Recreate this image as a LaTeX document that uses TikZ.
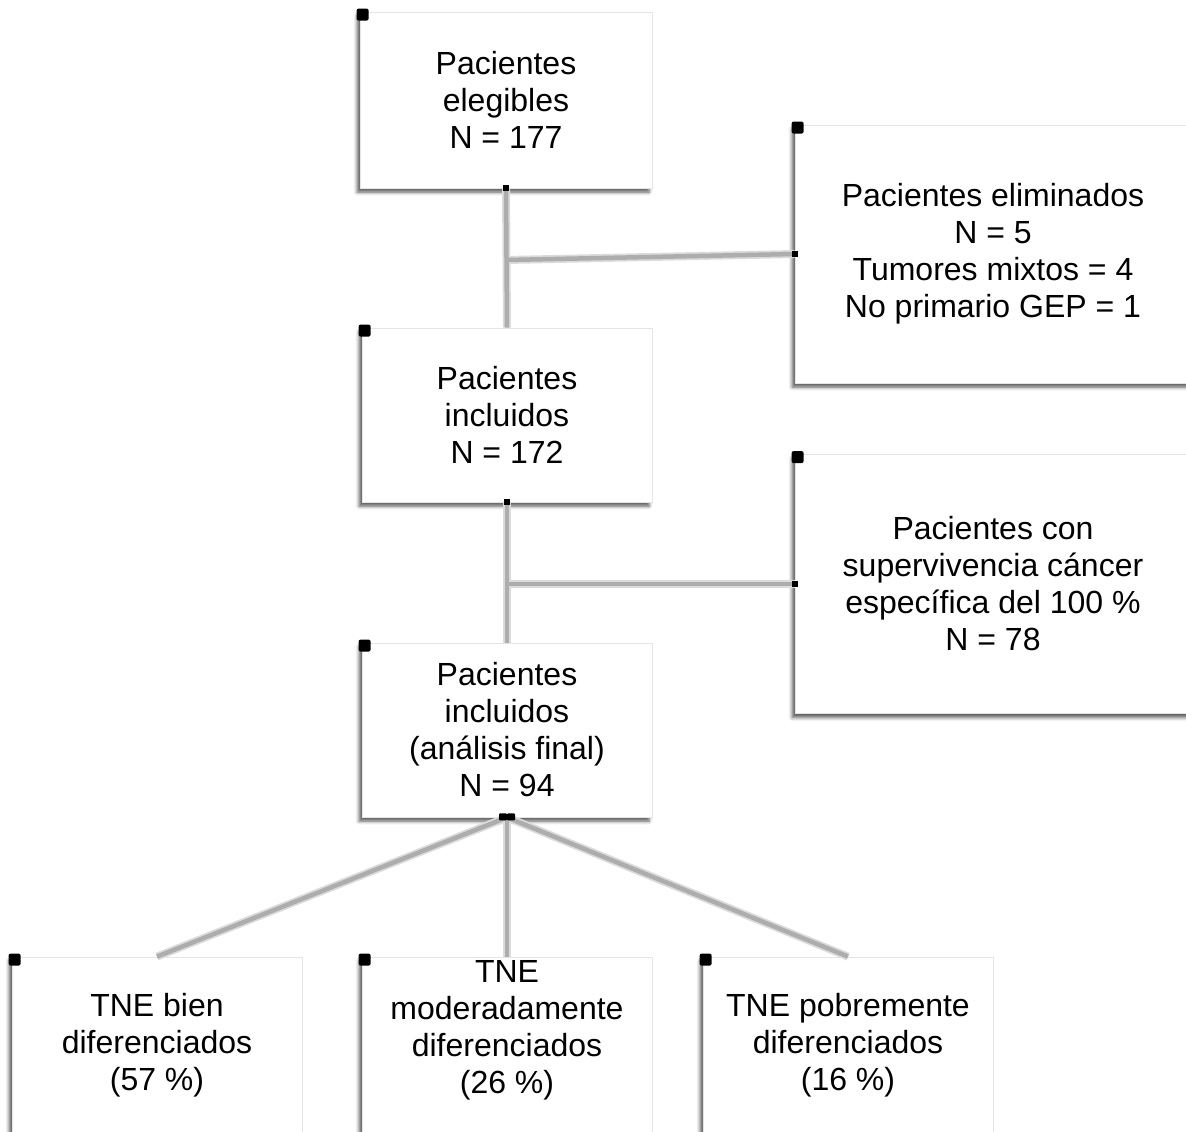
\documentclass[tikz,border=0pt]{standalone}
\usepackage{fontspec}
\setmainfont{Liberation Sans}
\usetikzlibrary{shadows.blur}

\tikzset{
    caja/.style={draw=black!10, line width=0.8pt, fill=white,
        minimum width=290pt, minimum height=175pt, inner sep=0pt,
        align=center, font=\fontsize{32}{37}\selectfont,
        blur shadow={shadow xshift=-3pt, shadow yshift=-4pt,
            shadow blur radius=3.5pt, shadow opacity=65}},
    cajaancha/.style={caja, minimum width=396pt, minimum height=258pt},
    conector/.style={draw=black!32, line width=4.5pt},
    halo/.style={draw=black!14, line width=8pt}
}

\begin{document}
\begin{tikzpicture}[x=1pt, y=-1pt]
        \useasboundingbox (0,0) rectangle (1186,1132);
        \clip (0,0) rectangle (1186,1132);

        % Cajas principales
        \node[caja, minimum width=292pt, minimum height=176pt] (elegibles) at (506,100)
            {Pacientes\\elegibles\\N = 177};
        \node[caja, minimum height=174pt] (incluidos) at (507,415)
            {Pacientes\\incluidos\\N = 172};
        \node[caja, minimum height=174pt] (final) at (507,730)
            {Pacientes\\incluidos\\(análisis final)\\N = 94};

        % Cajas de la derecha
        \node[cajaancha] (eliminados) at (993,254)
            {Pacientes eliminados\\N = 5\\Tumores mixtos = 4\\No primario GEP = 1};
        \node[cajaancha, minimum height=259pt] (supervivencia) at (993,584)
            {Pacientes con\\supervivencia cáncer\\específica del 100 \%\\N = 78};

        % Cajas inferiores
        \node[caja, minimum height=176pt] (bien) at (157,1045)
            {TNE bien\\diferenciados\\(57 \%)};
        \node[caja, minimum height=176pt] (moderado) at (507,1045)
            {TNE\\moderadamente\\diferenciados\\(26 \%)\\\mbox{}};
        \node[caja, minimum height=176pt] (pobre) at (848,1045)
            {TNE pobremente\\diferenciados\\(16 \%)};

        % Puntos de bifurcacion
        \coordinate (rama1) at ([yshift=-6pt]elegibles.south |- eliminados.west);
        \coordinate (rama2) at (incluidos.south |- supervivencia.west);

        % Conectores
        \foreach \estilo in {halo, conector} {
            \draw[\estilo] (elegibles.south) -- (incluidos.north);
            \draw[\estilo] (rama1) -- (eliminados.west);
            \draw[\estilo] (incluidos.south) -- (final.north);
            \draw[\estilo] (rama2) -- (supervivencia.west);
            \draw[\estilo] (final.south) -- (bien.north);
            \draw[\estilo] (final.south) -- (moderado.north);
            \draw[\estilo] (final.south) -- (pobre.north);
        }

        % Marcas en las esquinas
        \foreach \caja in {elegibles, incluidos, final, eliminados, supervivencia, bien, moderado, pobre}
            \fill[rounded corners=2pt] ([shift={(-3,-3)}]\caja.north west) rectangle ++(12,12);

        % Marcas en los extremos de los conectores
        \foreach \punto in {elegibles.south, incluidos.south, eliminados.west, supervivencia.west}
            \fill ([shift={(-3,-3)}]\punto) rectangle ++(6,6);
        \fill[rounded corners=1pt] ([shift={(-8,-4)}]final.south) rectangle ++(8,7);
        \fill[rounded corners=1pt] ([shift={(0,-4)}]final.south) rectangle ++(8,7);
    \end{tikzpicture}
\end{document}
